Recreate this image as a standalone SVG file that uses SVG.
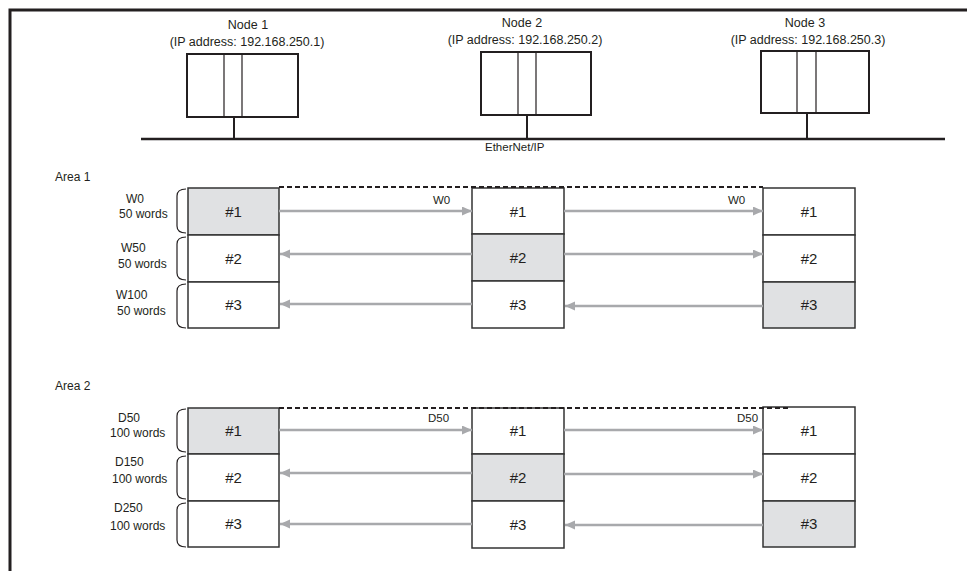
<svg xmlns="http://www.w3.org/2000/svg" width="967" height="571" viewBox="0 0 967 571">
<defs>
<style>
text{font-family:"Liberation Sans",Arial,sans-serif;fill:#231f20}
.lbl{font-size:12px}
.node{font-size:12.5px;text-anchor:middle}
.cell{font-size:15px;text-anchor:middle}
.sm{font-size:11.5px}
.blk{fill:#fff;stroke:#333;stroke-width:1.5}
.own{fill:#e0e1e3;stroke:#333;stroke-width:1.5}
.plc{fill:#fff;stroke:#231f20;stroke-width:2}
.div{stroke:#231f20;stroke-width:1.2;fill:none}
.arr{stroke:#a8a9ac;stroke-width:2.5;fill:none;marker-end:url(#ah)}
.ln{stroke:#a8a9ac;stroke-width:2.5;fill:none}
.brace{fill:none;stroke:#231f20;stroke-width:1.2}
.dash{stroke:#231f20;stroke-width:2;stroke-dasharray:5,3;fill:none}
</style>
<marker id="ah" markerUnits="userSpaceOnUse" markerWidth="11" markerHeight="10" refX="10" refY="4.5" orient="auto">
<path d="M0,0 L10,4.5 L0,9 z" fill="#a8a9ac"/>
</marker>
</defs>
<rect width="967" height="571" fill="#fff"/>
<path d="M10,571 V10 H967" fill="none" stroke="#231f20" stroke-width="3"/>

<g id="network">
<line x1="141" y1="139" x2="945" y2="139" stroke="#231f20" stroke-width="2.5"/>
<text class="sm" x="485" y="151">EtherNet/IP</text>
</g>

<g id="node1">
<text class="node" x="248" y="29">Node 1</text>
<text class="node" x="247" y="46">(IP address: 192.168.250.1)</text>
<rect class="plc" x="187" y="54" width="111" height="63"/>
<path class="div" d="M224,54 V117 M242,54 V117"/>
<line x1="234" y1="117" x2="234" y2="139" stroke="#231f20" stroke-width="2"/>
</g>
<g id="node2">
<text class="node" x="522" y="27">Node 2</text>
<text class="node" x="525" y="44">(IP address: 192.168.250.2)</text>
<rect class="plc" x="481" y="52" width="110" height="63"/>
<path class="div" d="M518,52 V115 M536,52 V115"/>
<line x1="527" y1="115" x2="527" y2="139" stroke="#231f20" stroke-width="2"/>
</g>
<g id="node3">
<text class="node" x="805" y="27">Node 3</text>
<text class="node" x="808" y="44">(IP address: 192.168.250.3)</text>
<rect class="plc" x="761" y="51" width="108" height="62"/>
<path class="div" d="M797,51 V113 M816,51 V113"/>
<line x1="807" y1="113" x2="807" y2="139" stroke="#231f20" stroke-width="2"/>
</g>

<g id="area1">
<text class="lbl" x="55" y="181">Area 1</text>
<g id="a1-labels">
<text class="lbl" x="126" y="203">W0</text>
<text class="lbl" x="119" y="218">50 words</text>
<text class="lbl" x="121" y="252">W50</text>
<text class="lbl" x="118" y="268">50 words</text>
<text class="lbl" x="116" y="299">W100</text>
<text class="lbl" x="117" y="315">50 words</text>
<path class="brace" d="M186,189 Q177,189 177,196 V226 Q177,233 186,233"/>
<path class="brace" d="M186,237 Q177,237 177,244 V273 Q177,280 186,280"/>
<path class="brace" d="M186,284 Q177,284 177,291 V321 Q177,328 186,328"/>
</g>
<g id="a1-node1">
<rect class="own" x="188" y="188" width="91" height="47"/>
<rect class="blk" x="188" y="235" width="91" height="47"/>
<rect class="blk" x="188" y="282" width="91" height="46"/>
<text class="cell" x="233.5" y="217">#1</text>
<text class="cell" x="233.5" y="264">#2</text>
<text class="cell" x="233.5" y="310">#3</text>
</g>
<g id="a1-node2">
<rect class="blk" x="472" y="188" width="92" height="46"/>
<rect class="own" x="472" y="234" width="92" height="47"/>
<rect class="blk" x="472" y="281" width="92" height="47"/>
<text class="cell" x="518" y="217">#1</text>
<text class="cell" x="518" y="263">#2</text>
<text class="cell" x="518" y="310">#3</text>
</g>
<g id="a1-node3">
<rect class="blk" x="763" y="188" width="92" height="47"/>
<rect class="blk" x="763" y="235" width="92" height="47"/>
<rect class="own" x="763" y="282" width="92" height="46"/>
<text class="cell" x="809" y="217">#1</text>
<text class="cell" x="809" y="264">#2</text>
<text class="cell" x="809" y="310">#3</text>
</g>
</g>

<g id="area2">
<text class="lbl" x="55" y="390">Area 2</text>
<g id="a2-labels">
<text class="lbl" x="118" y="422">D50</text>
<text class="lbl" x="110" y="437">100 words</text>
<text class="lbl" x="115" y="466">D150</text>
<text class="lbl" x="112" y="483">100 words</text>
<text class="lbl" x="114" y="512">D250</text>
<text class="lbl" x="110" y="530">100 words</text>
<path class="brace" d="M186,409 Q177,409 177,416 V445 Q177,452 186,452"/>
<path class="brace" d="M186,456 Q177,456 177,463 V492 Q177,499 186,499"/>
<path class="brace" d="M186,503 Q177,503 177,510 V540 Q177,547 186,547"/>
</g>
<g id="a2-node1">
<rect class="own" x="188" y="408" width="91" height="46"/>
<rect class="blk" x="188" y="454" width="91" height="47"/>
<rect class="blk" x="188" y="501" width="91" height="46"/>
<text class="cell" x="233.5" y="436">#1</text>
<text class="cell" x="233.5" y="483">#2</text>
<text class="cell" x="233.5" y="529">#3</text>
</g>
<g id="a2-node2">
<rect class="blk" x="472" y="408" width="92" height="46"/>
<rect class="own" x="472" y="454" width="92" height="47"/>
<rect class="blk" x="472" y="501" width="92" height="47"/>
<text class="cell" x="518" y="436">#1</text>
<text class="cell" x="518" y="483">#2</text>
<text class="cell" x="518" y="530">#3</text>
</g>
<g id="a2-node3">
<rect class="blk" x="763" y="407" width="92" height="47"/>
<rect class="blk" x="763" y="454" width="92" height="47"/>
<rect class="own" x="763" y="501" width="92" height="46"/>
<text class="cell" x="809" y="436">#1</text>
<text class="cell" x="809" y="483">#2</text>
<text class="cell" x="809" y="529">#3</text>
</g>
</g>

<g id="connectors">
<path class="dash" d="M279,187 H763"/>
<path class="arr" d="M279,211 H472"/>
<path class="arr" d="M564,211 H763"/>
<path class="arr" d="M472,254 H280"/>
<path class="arr" d="M564,254 H763"/>
<path class="arr" d="M472,304 H280"/>
<path class="arr" d="M763,306 H565"/>
<text class="sm" x="433" y="204">W0</text>
<text class="sm" x="728" y="204">W0</text>

<path class="dash" d="M279,408 H790"/>
<path class="arr" d="M279,430 H472"/>
<path class="arr" d="M564,430 H763"/>
<path class="arr" d="M472,473 H280"/>
<path class="arr" d="M564,474 H763"/>
<path class="arr" d="M472,524 H280"/>
<path class="arr" d="M763,525 H565"/>
<text class="sm" x="428" y="422">D50</text>
<text class="sm" x="737" y="422">D50</text>
</g>
</svg>
